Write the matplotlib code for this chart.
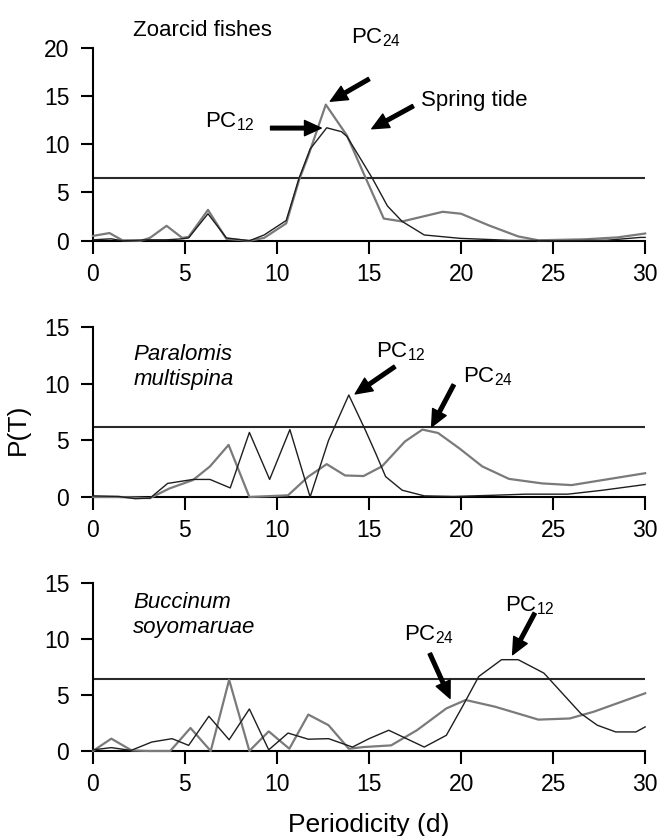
import matplotlib
matplotlib.use('Agg')
import matplotlib.pyplot as plt

plt.rcParams['font.family'] = ['Liberation Sans', 'DejaVu Sans']
plt.rcParams['mathtext.fontset'] = 'custom'
plt.rcParams['mathtext.rm'] = 'Liberation Sans'

# Zoarcid fishes
zo_x24 = [0, 0.9, 1.6, 2.6, 3.1, 4.0, 4.85, 5.2, 6.25, 7.25, 8.5, 9.3, 10.5, 11.2, 11.7, 12.65,
          13.8, 14.7, 15.8, 16.8, 19.0, 20.0, 21.5, 23.1, 24.2, 26.7, 28.5, 30]
zo_y24 = [0.5, 0.8, 0.05, 0.0, 0.3, 1.55, 0.3, 0.4, 3.2, 0.2, 0.0, 0.3, 1.8, 6.3, 8.8, 14.1,
          10.9, 7.0, 2.3, 2.0, 3.0, 2.8, 1.6, 0.45, 0.05, 0.15, 0.35, 0.75]
zo_x12 = [0, 1.0, 1.6, 3.0, 4.0, 4.85, 5.2, 6.25, 7.25, 8.5, 9.3, 10.5, 11.2, 11.8, 12.7, 13.5,
          13.8, 14.6, 15.2, 16.0, 16.8, 18.0, 19.95, 22.6, 25.0, 27.9, 29.75, 30]
zo_y12 = [0.1, 0.2, 0.0, 0.1, 0.1, 0.2, 0.3, 2.8, 0.3, 0.0, 0.6, 2.1, 6.5, 9.5, 11.7, 11.3,
          10.8, 8.3, 6.4, 3.6, 2.0, 0.6, 0.25, 0.05, 0.0, 0.05, 0.35, 0.35]

# Paralomis multispina
pa_x12 = [0, 1.4, 2.3, 3.1, 4.06, 5.44, 6.36, 7.46, 8.5, 9.6, 10.7, 11.8, 12.8, 13.9, 14.8, 15.35,
          15.9, 16.8, 18.0, 19.6, 21.7, 23.5, 25.8, 27.7, 30]
pa_y12 = [0.1, 0.05, -0.15, -0.1, 1.2, 1.55, 1.55, 0.8, 5.7, 1.55, 5.95, 0.0, 5.0, 9.0, 5.9, 3.9,
          1.8, 0.6, 0.1, 0.05, 0.15, 0.25, 0.25, 0.6, 1.1]
pa_x24 = [0, 1.4, 3.1, 4.15, 5.44, 6.36, 7.37, 8.5, 10.6, 11.7, 12.7, 13.7, 14.7, 15.7, 16.95, 17.9,
          18.75, 19.9, 21.15, 22.6, 24.4, 26.0, 27.9, 30]
pa_y24 = [0.0, 0.0, -0.1, 0.75, 1.5, 2.7, 4.6, 0.0, 0.15, 1.8, 2.9, 1.9, 1.85, 2.7, 4.9, 5.95,
          5.65, 4.3, 2.7, 1.6, 1.2, 1.05, 1.55, 2.1]

# Buccinum soyomaruae
bu_x12 = [0, 1.0, 2.07, 3.2, 4.3, 5.2, 6.3, 7.4, 8.5, 9.55, 10.6, 11.7, 12.8, 14.1, 15.0, 16.07,
          18.0, 19.2, 20.07, 20.96, 22.2, 23.1, 24.5, 26.5, 27.4, 28.4, 29.5, 30]
bu_y12 = [0.1, 0.3, 0.05, 0.8, 1.1, 0.5, 3.1, 1.0, 3.75, 0.1, 1.6, 1.05, 1.1, 0.35, 1.1, 1.85,
          0.35, 1.4, 3.95, 6.65, 8.15, 8.15, 6.95, 3.35, 2.3, 1.7, 1.7, 2.15]
bu_x24 = [0, 1.0, 2.1, 3.0, 4.2, 5.3, 6.4, 7.4, 8.5, 9.55, 10.67, 11.7, 12.8, 13.9, 14.7, 16.2,
          17.6, 19.2, 20.25, 21.85, 24.2, 25.9, 27.2, 30]
bu_y24 = [0.0, 1.1, 0.05, 0.0, 0.0, 2.05, 0.0, 6.35, 0.0, 1.75, 0.2, 3.25, 2.3, 0.2, 0.35, 0.5,
          1.85, 3.8, 4.55, 3.95, 2.8, 2.9, 3.5, 5.15]

thresholds = [6.5, 6.2, 6.4]
ymaxes = [20, 15, 15]

fig = plt.figure(figsize=(6.59, 8.36), dpi=100)
rects = [[0.141, 0.712, 0.838, 0.231],
         [0.141, 0.4055, 0.838, 0.2033],
         [0.141, 0.1017, 0.838, 0.201]]
axes = [fig.add_axes(r) for r in rects]

series = [(zo_x12, zo_y12, zo_x24, zo_y24),
          (pa_x12, pa_y12, pa_x24, pa_y24),
          (bu_x12, bu_y12, bu_x24, bu_y24)]

for ax, (x12, y12, x24, y24), thr, ym in zip(axes, series, thresholds, ymaxes):
    ax.plot(x24, y24, color='#7a7a7a', lw=1.6, clip_on=False, zorder=3)
    ax.plot(x12, y12, color='#1e1e1e', lw=1.0, clip_on=False, zorder=4)
    ax.axhline(thr, color='#2a2a2a', lw=1.5)
    ax.set_xlim(0, 30)
    ax.set_ylim(0, ym)
    ax.set_xticks(range(0, 31, 5))
    ax.set_yticks(range(0, ym + 1, 5))
    for s in ['top', 'right']:
        ax.spines[s].set_visible(False)
    for s in ['left', 'bottom']:
        ax.spines[s].set_linewidth(1.5)
    ax.tick_params(axis='both', length=9, width=1.5, labelsize=16.5)
    ax.tick_params(axis='y', pad=8)
    ax.tick_params(axis='x', pad=7)

arrow = dict(facecolor='black', edgecolor='black', width=2.6, headwidth=11, headlength=12, shrink=0)
fs = 16

ax = axes[0]
ax.text(2.2, 21.8, 'Zoarcid fishes', fontsize=fs, va='center')
ax.annotate('', xy=(12.9, 14.45), xytext=(15.0, 16.75), arrowprops=arrow)
ax.text(14.0, 21.0, r'PC$_{\mathregular{24}}$', fontsize=fs, va='center')
ax.annotate('', xy=(12.4, 11.67), xytext=(9.65, 11.67), arrowprops=arrow)
ax.text(6.1, 12.3, r'PC$_{\mathregular{12}}$', fontsize=fs, va='center')
ax.annotate('', xy=(15.15, 11.6), xytext=(17.4, 13.95), arrowprops=arrow)
ax.text(17.8, 14.5, 'Spring tide', fontsize=fs, va='center')

ax = axes[1]
ax.text(2.2, 11.5, 'Paralomis\nmultispina', fontsize=fs, style='italic', va='center', linespacing=1.25)
ax.annotate('', xy=(14.25, 9.1), xytext=(16.4, 11.5), arrowprops=arrow)
ax.text(15.4, 12.8, r'PC$_{\mathregular{12}}$', fontsize=fs, va='center')
ax.annotate('', xy=(18.4, 6.2), xytext=(19.6, 9.9), arrowprops=arrow)
ax.text(20.1, 10.6, r'PC$_{\mathregular{24}}$', fontsize=fs, va='center')
ax.set_ylabel('P(T)', fontsize=19)
ax.yaxis.set_label_coords(-0.115, 0.4)

ax = axes[2]
ax.text(2.2, 12.15, 'Buccinum\nsoyomaruae', fontsize=fs, style='italic', va='center', linespacing=1.25)
ax.annotate('', xy=(22.8, 8.6), xytext=(24.0, 12.3), arrowprops=arrow)
ax.text(22.4, 13.0, r'PC$_{\mathregular{12}}$', fontsize=fs, va='center')
ax.annotate('', xy=(19.4, 4.7), xytext=(18.3, 8.7), arrowprops=arrow)
ax.text(16.9, 10.4, r'PC$_{\mathregular{24}}$', fontsize=fs, va='center')
ax.set_xlabel('Periodicity (d)', fontsize=19, labelpad=12)

fig.savefig('out.png', dpi=100)
